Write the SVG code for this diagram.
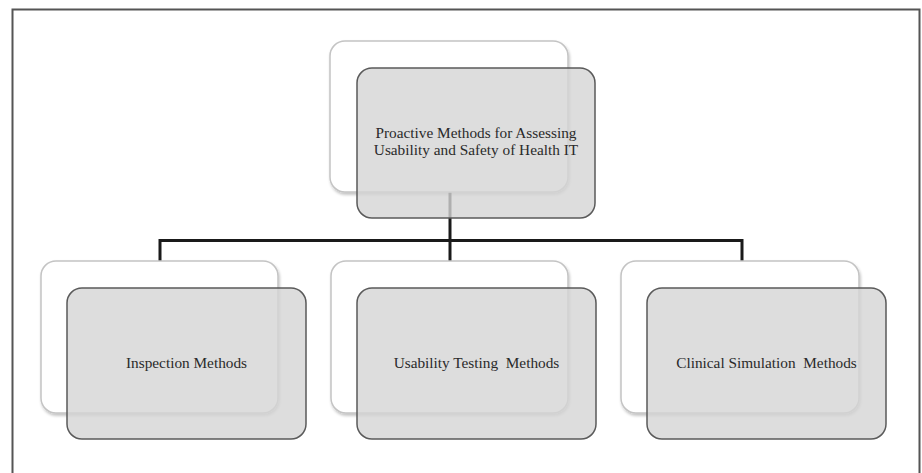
<svg xmlns="http://www.w3.org/2000/svg" width="922" height="473" viewBox="0 0 922 473">
<defs>
<filter id="sh" x="-10%" y="-10%" width="125%" height="125%">
<feGaussianBlur in="SourceAlpha" stdDeviation="1.5"/>
<feOffset dx="1" dy="2"/>
<feComponentTransfer><feFuncA type="linear" slope="0.25"/></feComponentTransfer>
<feMerge><feMergeNode/><feMergeNode in="SourceGraphic"/></feMerge>
</filter>
<style>
.back{fill:#ffffff;stroke:#c4c4c4;stroke-width:1.5}
.front{fill:#d4d4d4;fill-opacity:0.8;stroke:#5a5a5a;stroke-width:1.5}
.lbl{font-family:"Liberation Serif","Times New Roman",serif;font-size:15.3px;fill:#2a2a2a;text-anchor:middle;white-space:pre}
.conn{fill:none;stroke:#1a1a1a;stroke-width:3}
</style>
</defs>
<rect x="0" y="0" width="922" height="473" fill="#ffffff"/>
<path d="M12.5,475 V9.5 H919.5 V475" fill="none" stroke="#555555" stroke-width="2"/>
<g id="connectors">
<path class="conn" d="M450,192 V261"/>
<path class="conn" d="M160,261 V240.5 H742 V261"/>
</g>
<g id="node-root">
<rect class="back" x="330" y="41" width="238" height="151" rx="15" filter="url(#sh)"/>
<rect class="front" x="357" y="68" width="238" height="150" rx="15"/>
<text class="lbl" x="476" y="138">Proactive Methods for Assessing</text>
<text class="lbl" x="476" y="155">Usability and Safety of Health IT</text>
</g>
<g id="node-inspection">
<rect class="back" x="41" y="261" width="237" height="152" rx="15" filter="url(#sh)"/>
<rect class="front" x="67" y="288" width="239" height="151" rx="15"/>
<text class="lbl" x="186.5" y="368">Inspection Methods</text>
</g>
<g id="node-usability">
<rect class="back" x="331" y="261" width="237" height="152" rx="15" filter="url(#sh)"/>
<rect class="front" x="357" y="288" width="239" height="151" rx="15"/>
<text class="lbl" x="476.5" y="368" xml:space="preserve">Usability Testing  Methods</text>
</g>
<g id="node-clinical">
<rect class="back" x="621" y="261" width="238" height="152" rx="15" filter="url(#sh)"/>
<rect class="front" x="647" y="288" width="239" height="151" rx="15"/>
<text class="lbl" x="766.5" y="368" xml:space="preserve">Clinical Simulation  Methods</text>
</g>
</svg>
